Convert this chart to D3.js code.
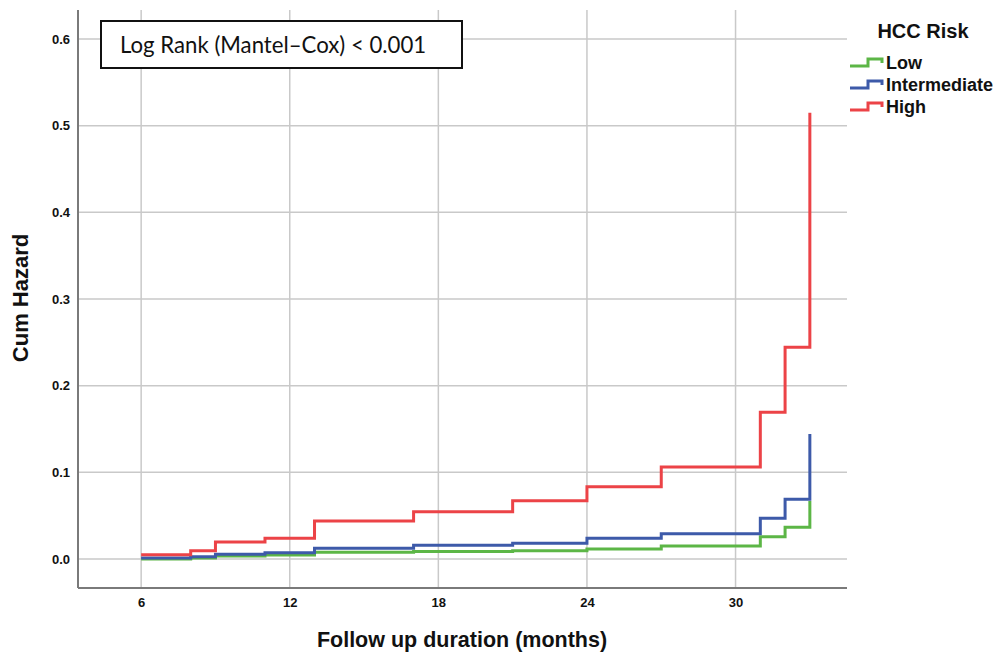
<!DOCTYPE html>
<html>
<head>
<meta charset="utf-8">
<script src="https://cdn.jsdelivr.net/npm/d3@7"></script>
<style>
  html, body { margin: 0; padding: 0; background: #ffffff; }
  svg { display: block; }
</style>
</head>
<body>
<svg id="chart" width="1001" height="660"></svg>
<script>
// ---- data ----
const times = [6, 8, 9, 11, 13, 17, 21, 24, 27, 31, 32, 33];
const lowRisk = [0.000, 0.001, 0.0035, 0.0046, 0.0077, 0.0085, 0.0096, 0.0115, 0.015, 0.0257, 0.0366, 0.0669];
const intermediateRisk = [0.001, 0.0027, 0.0054, 0.0073, 0.0123, 0.0158, 0.0181, 0.0239, 0.0292, 0.047, 0.0689, 0.1442];
const highRisk = [0.005, 0.0096, 0.0196, 0.0239, 0.0438, 0.0546, 0.0673, 0.0834, 0.1061, 0.1692, 0.2443, 0.515];
const seriesNames = ["Low", "Intermediate", "High"];
const xTicks = [6, 12, 18, 24, 30];
const yTicks = [0.0, 0.1, 0.2, 0.3, 0.4, 0.5, 0.6];
const legendTitle = "HCC Risk";
const xTitle = "Follow up duration (months)";
const yTitle = "Cum Hazard";
const annotation = "Log Rank (Mantel\u2013Cox) < 0.001";

// ---- layout ----
const colors = ["#5cb646", "#3d5aa9", "#ec4347"];
const svg = d3.select("#chart");
const pL = 78, pR = 847, pT = 10, pB = 588;

const x = d3.scaleLinear().domain([3.45, 34.5]).range([pL, pR]);
const y = d3.scaleLinear().domain([-0.0335, 0.6335]).range([pB, pT]);

// gridlines
const grid = svg.append("g");
grid.selectAll("line.h").data(yTicks).join("line").attr("class", "h")
  .attr("x1", pL).attr("x2", pR)
  .attr("y1", d => y(d)).attr("y2", d => y(d))
  .attr("stroke", "#c9c9c9").attr("stroke-width", 1.5);
grid.selectAll("line.v").data(xTicks).join("line").attr("class", "v")
  .attr("y1", pT).attr("y2", pB)
  .attr("x1", d => x(d)).attr("x2", d => x(d))
  .attr("stroke", "#c9c9c9").attr("stroke-width", 1.5);

// axes
const xAxis = d3.axisBottom(x).tickValues(xTicks).tickSize(0).tickPadding(10).tickFormat(d3.format("d"));
const yAxis = d3.axisLeft(y).tickValues(yTicks).tickSize(0).tickPadding(8).tickFormat(d3.format(".1f"));
const gx = svg.append("g").attr("transform", `translate(0,${pB})`).call(xAxis);
const gy = svg.append("g").attr("transform", `translate(${pL},0)`).call(yAxis);
[gx, gy].forEach(g => {
  g.select(".domain").attr("stroke", "#7a7a7a").attr("stroke-width", 2);
  g.selectAll("text").attr("font-family", "Liberation Sans, Arial, sans-serif")
    .attr("font-weight", "bold").attr("font-size", 13).attr("fill", "#111");
});
gx.select(".domain").attr("d", `M${pL},0H${pR}`);
gy.select(".domain").attr("d", `M0,${pT}V${pB}`);

// step lines
const allSeries = [lowRisk, intermediateRisk, highRisk];
const line = d3.line().curve(d3.curveStepAfter)
  .x((d, i) => x(times[i])).y(d => y(d));
svg.append("g").selectAll("path").data(allSeries).join("path")
  .attr("d", d => line(d))
  .attr("fill", "none")
  .attr("stroke", (d, i) => colors[i])
  .attr("stroke-width", 3)
  .attr("stroke-linejoin", "miter");

// axis titles
svg.append("text").attr("x", 462).attr("y", 647)
  .attr("text-anchor", "middle")
  .attr("font-family", "Liberation Sans, Arial, sans-serif").attr("font-weight", "bold")
  .attr("font-size", 21.5).attr("fill", "#111").text(xTitle);
svg.append("text").attr("transform", `translate(28,298) rotate(-90)`)
  .attr("text-anchor", "middle")
  .attr("font-family", "Liberation Sans, Arial, sans-serif").attr("font-weight", "bold")
  .attr("font-size", 22).attr("fill", "#111").text(yTitle);

// annotation box
svg.append("rect").attr("x", 101).attr("y", 21).attr("width", 361).attr("height", 47)
  .attr("fill", "#fff").attr("stroke", "#111").attr("stroke-width", 2);
svg.append("text").attr("x", 120).attr("y", 53)
  .attr("font-family", "Lato, Open Sans, sans-serif").attr("font-size", 22.2)
  .attr("fill", "#111").text(annotation);

// legend
const lg = svg.append("g");
lg.append("text").attr("x", 923).attr("y", 38).attr("text-anchor", "middle")
  .attr("font-family", "Liberation Sans, Arial, sans-serif").attr("font-weight", "bold")
  .attr("font-size", 20).attr("fill", "#111").text(legendTitle);
seriesNames.forEach((name, i) => {
  const cy = 63 + i * 22;
  lg.append("path")
    .attr("d", `M850,${cy + 3}H868V${cy - 4}H882V${cy}`)
    .attr("fill", "none").attr("stroke", colors[i]).attr("stroke-width", 3);
  lg.append("text").attr("x", 886).attr("y", cy + 6)
    .attr("font-family", "Liberation Sans, Arial, sans-serif").attr("font-weight", "bold")
    .attr("font-size", 18).attr("fill", "#111").text(name);
});
</script>
</body>
</html>
